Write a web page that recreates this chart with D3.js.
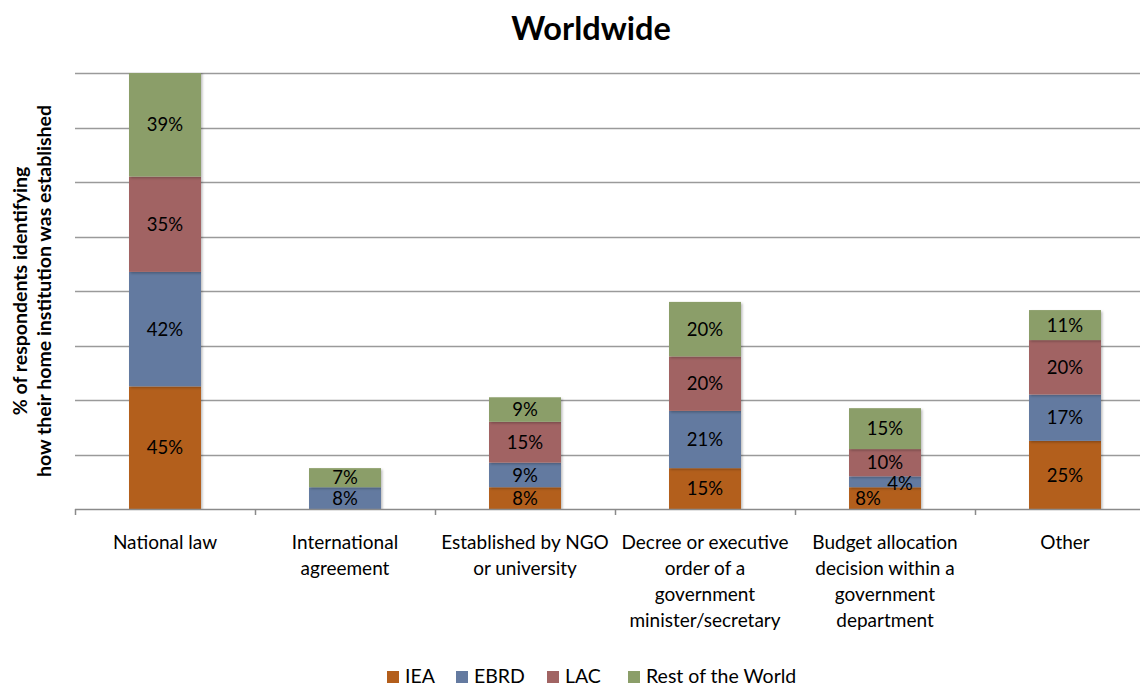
<!DOCTYPE html>
<html>
<head>
<meta charset="utf-8">
<script src="https://cdn.jsdelivr.net/npm/d3@7"></script>
<style>
  html, body { margin: 0; padding: 0; background: #fff; }
  svg { display: block; font-family: Lato, "Open Sans", sans-serif; }
</style>
</head>
<body>
<svg id="chart" width="1140" height="687"></svg>
<script>
// Categories (wrapped as drawn under the axis)
const categories = [
  "National law",
  "International agreement",
  "Established by NGO or university",
  "Decree or executive order of a government minister/secretary",
  "Budget allocation decision within a government department",
  "Other"
];
const categoryLines = [
  ["National law"],
  ["International", "agreement"],
  ["Established by NGO", "or university"],
  ["Decree or executive", "order of a", "government", "minister/secretary"],
  ["Budget allocation", "decision within a", "government", "department"],
  ["Other"]
];

// Series values (% of respondents), 0 = no segment
const seriesNames = ["IEA", "EBRD", "LAC", "Rest of the World"];
const iea  = [45, 0, 8, 15, 8, 25];
const ebrd = [42, 8, 9, 21, 4, 17];
const lac  = [35, 0, 15, 20, 10, 20];
const row  = [39, 7, 9, 20, 15, 11];
const seriesColors = ["#B35E1B", "#647AA0", "#A16463", "#8B9E69"];

const yTicks = [0, 20, 40, 60, 80, 100, 120, 140, 160];

const table = categories.map((c, i) => ({
  category: c,
  "IEA": iea[i], "EBRD": ebrd[i], "LAC": lac[i], "Rest of the World": row[i]
}));

const svg = d3.select("#chart");
const W = 1140, H = 687;
const plot = { left: 75, right: 1155, top: 73, bottom: 509 };

const x = d3.scaleBand().domain(categories).range([plot.left, plot.right]).paddingInner(0.6).paddingOuter(0.3);
const xOuter = d3.scaleBand().domain(categories).range([plot.left, plot.right]);
const y = d3.scaleLinear().domain([0, 160]).range([plot.bottom, plot.top]);

// Title
svg.append("text")
  .attr("x", 591).attr("y", 40)
  .attr("text-anchor", "middle")
  .attr("font-size", 32.5).attr("font-weight", "bold")
  .attr("fill", "#000")
  .text("Worldwide");

// Gridlines
svg.append("g").selectAll("line")
  .data(yTicks.filter(t => t > 0))
  .join("line")
  .attr("x1", plot.left).attr("x2", W)
  .attr("y1", d => Math.round(y(d)) + 0.5).attr("y2", d => Math.round(y(d)) + 0.5)
  .attr("stroke", "#9a9a9a").attr("stroke-width", 1.5);

// Clip for bars that exceed the axis maximum
svg.append("clipPath").attr("id", "plotClip")
  .append("rect").attr("x", plot.left).attr("y", plot.top)
  .attr("width", plot.right - plot.left).attr("height", plot.bottom - plot.top);

const stack = d3.stack().keys(seriesNames);
const stacked = stack(table);

// Soft shadow under bars
const defs = svg.append("defs");
const f = defs.append("filter").attr("id", "shadow").attr("x", "-10%").attr("y", "-10%").attr("width", "130%").attr("height", "130%");
f.append("feDropShadow").attr("dx", 1.5).attr("dy", 1.5).attr("stdDeviation", 1.2).attr("flood-color", "#000").attr("flood-opacity", 0.25);

const barsG = svg.append("g").attr("clip-path", "url(#plotClip)");
stacked.forEach((layer, si) => {
  barsG.append("g").attr("fill", seriesColors[si]).attr("filter", "url(#shadow)")
    .selectAll("rect")
    .data(layer.filter(d => d[1] - d[0] > 0))
    .join("rect")
    .attr("x", d => x(d.data.category))
    .attr("width", x.bandwidth())
    .attr("y", d => y(d[1]))
    .attr("height", d => y(d[0]) - y(d[1]));
});

// X axis line and category separators
const axisG = svg.append("g");
axisG.append("line")
  .attr("x1", plot.left).attr("x2", W)
  .attr("y1", plot.bottom + 0.5).attr("y2", plot.bottom + 0.5)
  .attr("stroke", "#8a8a8a").attr("stroke-width", 1.5);
axisG.selectAll("line.tick")
  .data(categories)
  .join("line").attr("class", "tick")
  .attr("x1", d => Math.round(xOuter(d)) + 0.5).attr("x2", d => Math.round(xOuter(d)) + 0.5)
  .attr("y1", plot.bottom).attr("y2", plot.bottom + 6)
  .attr("stroke", "#8a8a8a").attr("stroke-width", 1.5);

// Data labels, centred in each segment; a thin segment pushes its label aside
const labelsG = svg.append("g").attr("font-size", 18.5).attr("fill", "#000").attr("text-anchor", "middle");
categories.forEach((c, ci) => {
  const segs = stacked.map(layer => layer[ci]).filter(d => d[1] - d[0] > 0);
  segs.forEach((d, k) => {
    const top = Math.max(y(d[1]), plot.top);
    const bottom = y(d[0]);
    let cx = x(c) + x.bandwidth() / 2;
    let cy = (top + bottom) / 2;
    const h = bottom - top;
    const next = segs[k + 1];
    if (h < 15) {
      cx += 15; cy += 1.5;
    } else if (next && (y(next[0]) - y(next[1])) < 15) {
      cx -= 17; cy += 0;
    }
    labelsG.append("text")
      .attr("x", cx).attr("y", cy).attr("dy", "0.36em")
      .text((d[1] - d[0]) + "%");
  });
});

// Category labels
const catG = svg.append("g").attr("font-size", 19).attr("fill", "#000").attr("text-anchor", "middle");
categories.forEach((c, ci) => {
  const t = catG.append("text")
    .attr("x", xOuter(c) + xOuter.bandwidth() / 2)
    .attr("y", 549);
  categoryLines[ci].forEach((ln, li) => {
    t.append("tspan").attr("x", xOuter(c) + xOuter.bandwidth() / 2).attr("dy", li === 0 ? 0 : 26).text(ln);
  });
});

// Y axis title
const yt = svg.append("text")
  .attr("transform", "translate(27,291) rotate(-90)")
  .attr("text-anchor", "middle")
  .attr("font-size", 19.5).attr("font-weight", "bold").attr("fill", "#000");
yt.append("tspan").attr("x", 0).attr("dy", 0).text("% of respondents identifying");
yt.append("tspan").attr("x", 0).attr("dy", 24).text("how their home institution was established");

// Legend
const legendX = [387, 456, 547, 628];
const legG = svg.append("g");
seriesNames.forEach((s, i) => {
  legG.append("rect")
    .attr("x", legendX[i]).attr("y", 671).attr("width", 12).attr("height", 12)
    .attr("fill", seriesColors[i]);
  legG.append("text")
    .attr("x", legendX[i] + 18).attr("y", 683)
    .attr("font-size", 19.5).attr("fill", "#000")
    .text(s);
});
</script>
</body>
</html>
